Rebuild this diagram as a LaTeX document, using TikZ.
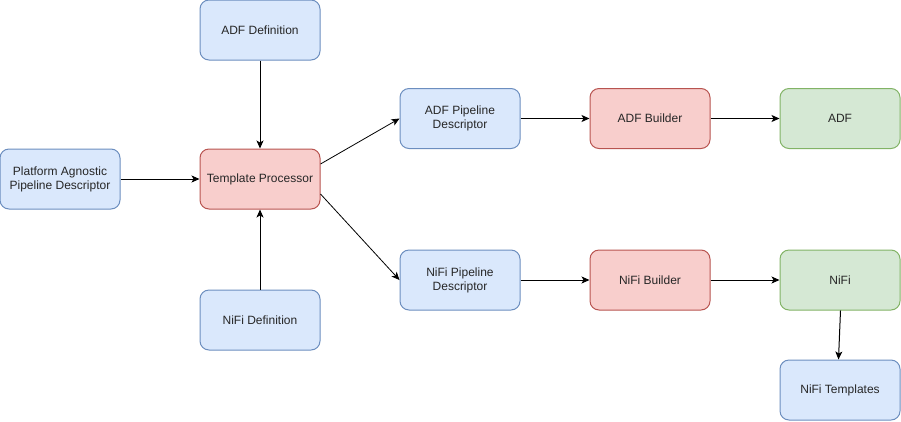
\documentclass[tikz,border=0pt]{standalone}
\usepackage{fontspec}
\setmainfont{Liberation Sans}
\usetikzlibrary{arrows.meta}
\definecolor{bfill}{HTML}{DAE8FC}\definecolor{bline}{HTML}{6C8EBF}
\definecolor{rfill}{HTML}{F8CECC}\definecolor{rline}{HTML}{B85450}
\definecolor{gfill}{HTML}{D5E8D4}\definecolor{gline}{HTML}{82B366}
\tikzset{
  box/.style={draw, line width=1pt, rounded corners=9pt, minimum width=120pt, minimum height=60pt,
    inner sep=0pt, align=center, font=\fontsize{12pt}{14pt}\selectfont, text=black!85},
  bluebox/.style={box, fill=bfill, draw=bline},
  redbox/.style={box, fill=rfill, draw=rline},
  greenbox/.style={box, fill=gfill, draw=gline},
  conn/.style={line width=1pt, -{Stealth[length=8pt,width=7pt,inset=2pt]}}
}
\begin{document}
\begin{tikzpicture}[x=1pt,y=-1pt]
\useasboundingbox (0,0) rectangle (901,421);
\node[bluebox] (adfdef) at (260,30) {ADF Definition};
\node[bluebox] (pa) at (60,179) {Platform Agnostic\\Pipeline Descriptor};
\node[redbox] (tp) at (260,179) {Template Processor};
\node[bluebox] (nifidef) at (260,320) {NiFi Definition};
\node[bluebox] (adfpd) at (460,118.5) {ADF Pipeline\\Descriptor};
\node[redbox] (adfb) at (650,118.5) {ADF Builder};
\node[greenbox] (adf) at (840,118.5) {ADF};
\node[bluebox] (nifipd) at (460,280) {NiFi Pipeline\\Descriptor};
\node[redbox] (nifib) at (650,280) {NiFi Builder};
\node[greenbox] (nifi) at (840,280) {NiFi};
\node[bluebox] (nifit) at (840,390) {NiFi Templates};
\draw[conn] (adfdef) -- (tp);
\draw[conn] (nifidef) -- (tp);
\draw[conn] (pa) -- (tp);
\draw[conn, line width=0.8pt] (tp.east |- 0,164) -- (adfpd.west);
\draw[conn, line width=0.8pt] (tp.east |- 0,194) -- (nifipd.west);
\draw[conn] (adfpd) -- (adfb);
\draw[conn] (adfb) -- (adf);
\draw[conn] (nifipd) -- (nifib);
\draw[conn] (nifib) -- (nifi);
\draw[conn] ([xshift=0.5pt]nifi.south) -- ([xshift=-1.5pt]nifit.north);
\end{tikzpicture}
\end{document}
